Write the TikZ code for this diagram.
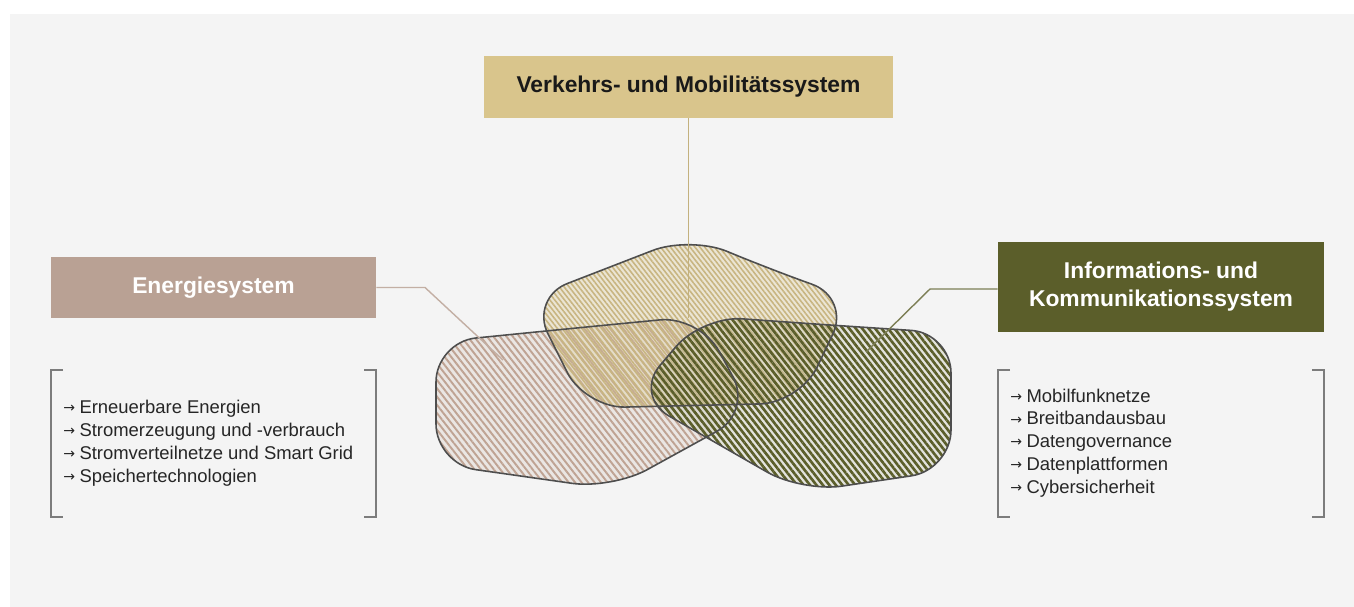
\documentclass[tikz,border=0pt]{standalone}
\usepackage{fontspec}
\setmainfont{Liberation Sans}
\newfontfamily\arrowfont{DejaVu Sans}
\usepackage{xcolor}
\usepackage{tikz}
\usetikzlibrary{positioning,patterns.meta}

\definecolor{bgGray}{HTML}{F4F4F4}
\definecolor{verkehrC}{HTML}{D9C58C}
\definecolor{energieC}{HTML}{B9A194}
\definecolor{energieHatch}{HTML}{BFA393}
\definecolor{infoC}{HTML}{5B5E2A}
\definecolor{bracketC}{HTML}{7C7C7C}
\definecolor{outlineC}{HTML}{4E4E4E}

\newcommand\listarrow{\raisebox{0.5pt}{\arrowfont\fontsize{8}{8}\selectfont →}\hspace{2.5pt}}

\tikzset{
  verkehrshape/.style={insert path={(767,268) -- (850,298) -- (800,403) -- (585,408) -- (530,298) -- (690,236) -- cycle}},
  energieshape/.style={insert path={(566,329) -- (700,316) -- (752,412) -- (612,489) -- (436,464) -- (436,342) -- cycle}},
  infoshape/.style={insert path={(829,325) -- (951,333) -- (951,470) -- (802,492) -- (634,396) -- (702,316) -- cycle}},
}

\begin{document}
\begin{tikzpicture}[x=0.02cm, y=-0.02cm, node distance = 0mm,
  titlebox/.style args = {#1,#2}{fill=#1,minimum width=#2,inner sep=0pt,font=\fontsize{13}{16}\selectfont\bfseries},
  listtext/.style={inner sep=0pt,align=left,anchor=west,text=black!85,font=\fontsize{10.5}{13}\selectfont},
  bracket/.style={draw=bracketC,line width=1.1pt},
  tint/.style={fill=#1,fill opacity=0.3,rounded corners=0.8cm},
  hatch/.style args = {#1,#2,#3}{pattern={Lines[angle=-52,distance=#2,line width=#3]},pattern color=#1,fill opacity=0.85,rounded corners=0.8cm},
  rim/.style={draw=outlineC,line width=0.9pt,rounded corners=0.8cm},
  connector/.style={draw=#1,line width=0.8pt}]
\useasboundingbox (0,0) rectangle (1354,607);
\fill[bgGray] (10,14) rectangle (1354,607);

\fill[tint=energieC!60,energieshape];
\fill[hatch={energieHatch,2.9pt,1.1pt},energieshape];
\fill[tint=verkehrC,verkehrshape];
\fill[hatch={verkehrC!92!black,2.2pt,0.9pt},verkehrshape];
\fill[tint=infoC!40,infoshape];
\fill[hatch={infoC,2.9pt,1.5pt},infoshape];
\draw[rim,energieshape];
\draw[rim,verkehrshape];
\draw[rim,infoshape];

\node (verkehr) [titlebox={verkehrC,8.18cm}, minimum height=1.24cm, text=black!90] at (688.5,87) {Verkehrs- und Mobilitätssystem};
\node (energie) [titlebox={energieC,6.5cm}, minimum height=1.22cm, text=white] at (213.5,287.5) {Energiesystem};
\node (info) [titlebox={infoC,6.52cm}, minimum height=1.8cm, text=white, align=center] at (1161,287) {Informations- und\\Kommunikationssystem};

\coordinate (verkehrEnd) at (688.5,318);
\coordinate (energieBend) at (425,287.5);
\coordinate (energieEnd) at (503,360);
\coordinate (infoBend) at (930,289);
\coordinate (infoEnd) at (866,352);
\draw[connector=verkehrC!90!black] (verkehr) -- (verkehrEnd);
\draw[connector=energieC!85] (energie.east) -- (energieBend) -- (energieEnd);
\draw[connector=infoC!80] (info.west |- infoBend) -- (infoBend) -- (infoEnd);

\node (energieList) [listtext] at (63,443) {\listarrow Erneuerbare Energien\\\listarrow Stromerzeugung und -verbrauch\\\listarrow Stromverteilnetze und Smart Grid\\\listarrow Speichertechnologien};
\node (infoList) [listtext] at (1010,443) {\listarrow Mobilfunknetze\\\listarrow Breitbandausbau\\\listarrow Datengovernance\\\listarrow Datenplattformen\\\listarrow Cybersicherheit};

\draw[bracket] (63,370) -| (51,517) -- (63,517);
\draw[bracket] (364,370) -| (376,517) -- (364,517);
\draw[bracket] (1010,370) -| (998,517) -- (1010,517);
\draw[bracket] (1312,370) -| (1324,517) -- (1312,517);
\end{tikzpicture}
\end{document}
